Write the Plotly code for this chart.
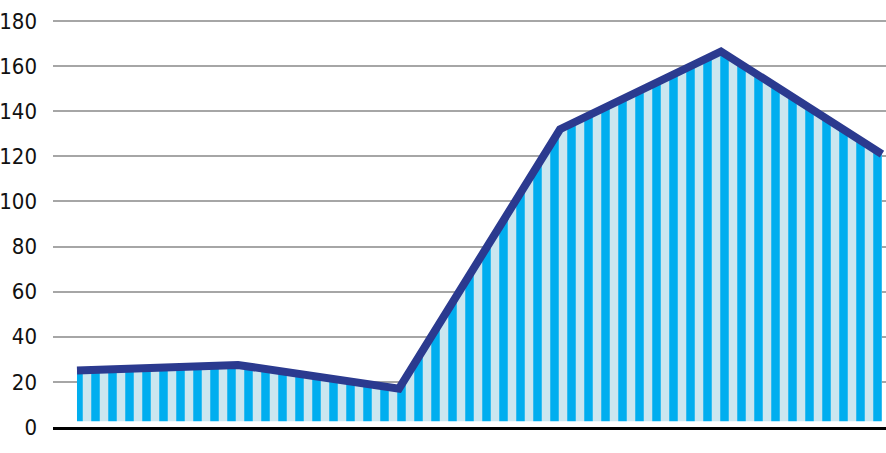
import plotly.graph_objects as go

categories = [0, 1, 2, 3, 4, 5]
values = [25, 27.5, 17, 132, 166.5, 121]
base_value = 2.5
y_ticks = [0, 20, 40, 60, 80, 100, 120, 140, 160, 180]

fig = go.Figure()
fig.add_trace(go.Scatter(x=categories, y=[base_value] * len(categories), mode="lines",
                         line=dict(width=0), hoverinfo="skip", showlegend=False))
fig.add_trace(go.Scatter(
    x=categories, y=values, mode="lines", fill="tonexty",
    fillpattern=dict(shape="|", fgcolor="#00AEEF", bgcolor="#CBE6EF",
                     size=17, solidity=0.5, fillmode="replace"),
    line=dict(color="#2B3A8F", width=8), showlegend=False))

fig.update_layout(
    width=886, height=453,
    margin=dict(l=53, r=0, t=19, b=26),
    plot_bgcolor="white", paper_bgcolor="white",
    font=dict(family="DejaVu Sans Condensed, sans-serif", size=22, color="#111111"),
    xaxis=dict(range=[-0.149, 5.025], showticklabels=False, showgrid=False, zeroline=False,
               showline=True, linecolor="black", linewidth=3, ticks="", automargin=False),
    yaxis=dict(range=[0, 180.89], tickvals=y_ticks, showgrid=True, gridcolor="#A6A6A6", gridwidth=2,
               zeroline=False, ticks="", ticklabelstandoff=15, automargin=False),
)
fig.write_html("out.html", config={"displayModeBar": False},
               post_script="document.body.style.margin='0';")
